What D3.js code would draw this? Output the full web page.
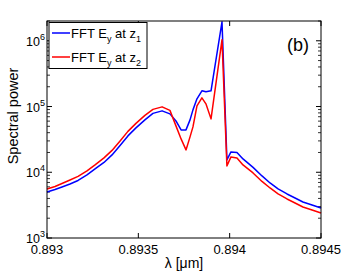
<!DOCTYPE html>
<html><head><meta charset="utf-8">
<script src="https://cdn.jsdelivr.net/npm/d3@7"></script>
<style>body{margin:0;background:#fff}svg{display:block}text{font-family:"Liberation Sans",Arial,sans-serif}</style>
</head><body><svg id="c" width="355" height="273"></svg>
<script>
const wavelength = [0.893000,0.893044,0.893082,0.893126,0.893170,0.893219,0.893263,0.893312,0.893356,0.893400,0.893443,0.893487,0.893536,0.893580,0.893630,0.893673,0.893706,0.893734,0.893761,0.893783,0.893799,0.893821,0.893848,0.893870,0.893898,0.893958,0.893985,0.894007,0.894040,0.894073,0.894128,0.894177,0.894221,0.894265,0.894314,0.894358,0.894401,0.894451,0.894500];
const powerZ1 = [5017,5477,5978,6642,7509,9107,11233,14113,18360,25620,35740,47320,62640,78680,85900,77300,60470,44130,44130,62640,88920,130900,173200,167200,173200,1946000,15410,20390,20040,15960,11850,8794,6879,5574,4677,4065,3533,3181,2862];
const powerZ2 = [5574,6085,6760,7642,8641,10480,12930,16530,21500,30000,41860,55400,73340,90540,98800,87400,50760,32170,21880,34510,49000,102300,135500,109800,64900,1035000,12490,17120,16530,12930,9768,7253,5771,4677,3926,3412,2966,2670,2403];
const xTicks = [0.893,0.8935,0.894,0.8945];
const xTickLabels = ["0.893","0.8935","0.894","0.8945"];
const yExponents = [3,4,5,6];
const seriesNames = ["z1","z2"];
const seriesColors = ["#0000ff","#ff0000"];

const svg = d3.select("#c");
const L=47,R=321,T=21,B=238;
const x = d3.scaleLinear().domain([0.893,0.8945]).range([L,R]);
const y = d3.scaleLog().domain([1000,2e6]).range([B,T]);

const minor=[];
for(let e=3;e<=6;e++) for(let m=2;m<=9;m++){const v=m*Math.pow(10,e); if(v<=2e6) minor.push(v);}
const g = svg.append("g");
minor.forEach(v=>{
  g.append("line").attr("x1",L).attr("x2",L+3).attr("y1",y(v)).attr("y2",y(v)).attr("stroke","#000").attr("stroke-width",0.8);
  g.append("line").attr("x1",R).attr("x2",R-3).attr("y1",y(v)).attr("y2",y(v)).attr("stroke","#000").attr("stroke-width",0.8);
});
yExponents.forEach(e=>{
  const v=Math.pow(10,e), yy=y(v);
  g.append("line").attr("x1",L).attr("x2",L+5).attr("y1",yy).attr("y2",yy).attr("stroke","#000");
  g.append("line").attr("x1",R).attr("x2",R-5).attr("y1",yy).attr("y2",yy).attr("stroke","#000");
  const t=g.append("text").attr("x",45).attr("y",yy+5).attr("text-anchor","end").attr("font-size",12.5).attr("fill","#000");
  t.append("tspan").text("10");
  t.append("tspan").attr("font-size",9).attr("dy",-6).text(e);
});
xTicks.forEach((v,i)=>{
  const xx=x(v);
  g.append("line").attr("x1",xx).attr("x2",xx).attr("y1",B).attr("y2",B-5).attr("stroke","#000");
  g.append("line").attr("x1",xx).attr("x2",xx).attr("y1",T).attr("y2",T+5).attr("stroke","#000");
  g.append("text").attr("x",xx).attr("y",254).attr("text-anchor","middle").attr("font-size",13).text(xTickLabels[i]);
});

const line = d3.line().x((d,i)=>x(wavelength[i])).y(d=>y(d));
[powerZ1,powerZ2].forEach((s,k)=>{
  svg.append("path").datum(s).attr("d",line).attr("fill","none").attr("stroke",seriesColors[k]).attr("stroke-width",1.5).attr("stroke-linejoin","round");
});

svg.append("rect").attr("x",L).attr("y",T).attr("width",R-L).attr("height",B-T).attr("fill","none").attr("stroke","#000").attr("stroke-width",1);

const lg = svg.append("g");
lg.append("rect").attr("x",49).attr("y",22.5).attr("width",98).attr("height",46).attr("fill","#fff").attr("stroke","#000").attr("stroke-width",1);
seriesNames.forEach((n,i)=>{
  const ly=33+i*24;
  lg.append("line").attr("x1",52).attr("x2",70).attr("y1",ly).attr("y2",ly).attr("stroke",seriesColors[i]).attr("stroke-width",1.5);
  const t=lg.append("text").attr("x",71).attr("y",ly+4.5).attr("font-size",13);
  t.append("tspan").text("FFT E");
  t.append("tspan").attr("font-size",9).attr("dy",4).text("y");
  t.append("tspan").attr("dy",-4).text(" at z");
  t.append("tspan").attr("font-size",9).attr("dy",4).text(n.slice(1));
});

svg.append("text").attr("x",298).attr("y",51).attr("text-anchor","middle").attr("font-size",18).text("(b)");
svg.append("text").attr("x",184).attr("y",268).attr("text-anchor","middle").attr("font-size",14).text("λ [μm]");
svg.append("text").attr("transform","translate(18,116) rotate(-90)").attr("text-anchor","middle").attr("font-size",14.5).text("Spectral power");
</script></body></html>
